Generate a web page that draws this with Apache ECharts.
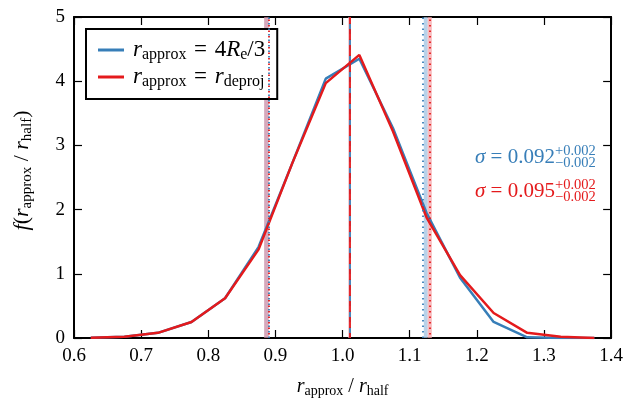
<!DOCTYPE html>
<html><head><meta charset="utf-8">
<script src="https://cdn.jsdelivr.net/npm/echarts@6/dist/echarts.min.js"></script>
<style>html,body{margin:0;padding:0;background:#fff}#c{width:626px;height:409px}</style>
</head><body><div id="c"></div>
<script>
const binCenters = [0.625,0.675,0.725,0.775,0.825,0.875,0.925,0.975,1.025,1.075,1.125,1.175,1.225,1.275,1.325,1.375];
const blueVals = [0.005,0.02,0.08,0.25,0.62,1.42,2.72,4.04,4.35,3.27,1.95,0.94,0.25,0.01,0,0];
const redVals  = [0.005,0.02,0.08,0.25,0.62,1.38,2.72,3.97,4.41,3.22,1.88,0.98,0.39,0.08,0.02,0];
const xTicks = [0.6,0.7,0.8,0.9,1.0,1.1,1.2,1.3,1.4];
const yTicks = [0,1,2,3,4,5];
const blueMed = 1.008, blueLo = 0.8875, blueHi = 1.124;
const redMed = 1.0095, redLo = 0.889, redHi = 1.130;
const blueHiBand = [1.121, 1.1268];
const redHiBand = [1.1268, 1.133];
const loBand = [0.8832, 0.890];
const medBand = [1.0083, 1.0123];
const sigmaBlue = ['0.092','+0.002','\u22120.002'];
const sigmaRed = ['0.095','+0.002','\u22120.002'];

const BLUE = '#377eb8', RED = '#e41a1c';
const FONT = 'Liberation Serif';
const chart = echarts.init(document.getElementById('c'));
function mkRich(big, small, lh, pad){
  return {
    i:{fontFamily:FONT,fontStyle:'italic',fontSize:big,color:'#000',lineHeight:lh,verticalAlign:'middle'},
    s:{fontFamily:FONT,fontSize:small,color:'#000',lineHeight:lh,padding:[pad,0,0,0],verticalAlign:'middle'},
    n:{fontFamily:FONT,fontSize:big,color:'#000',lineHeight:lh,verticalAlign:'middle'}
  };
}
const richX = mkRich(20,14,26,9);
const richY = mkRich(22,15,28,10);
const richL = mkRich(23,16,28,10);
function pairs(xs, ys){ return xs.map((x,i)=>[x, ys[i]]); }
const axisCommon = {
  min:xTicks[0],max:xTicks[xTicks.length-1],interval:0.1,type:'value',
  axisLine:{show:true,onZero:false,lineStyle:{color:'#000',width:2}},
  axisTick:{show:true,inside:true,length:8,lineStyle:{color:'#000',width:1.2}},
  splitLine:{show:false}
};
const yCommon = {
  type:'value',min:yTicks[0],max:yTicks[yTicks.length-1],interval:1,
  axisLine:{show:true,onZero:false,lineStyle:{color:'#000',width:2}},
  axisTick:{show:true,inside:true,length:8,lineStyle:{color:'#000',width:1.2}},
  splitLine:{show:false}
};
const SP = '\u2004';
chart.setOption({
  animation:false,
  grid:{left:74,right:14,top:17,bottom:71},
  xAxis:[
    Object.assign({}, axisCommon, {position:'bottom',
      axisLabel:{fontFamily:FONT,fontSize:19,color:'#000',margin:9,formatter:v=>v.toFixed(1)},
      name:'{i|r}{s|approx}{n| / }{i|r}{s|half}',nameLocation:'middle',nameGap:36,
      nameTextStyle:{rich:richX}}),
    Object.assign({}, axisCommon, {position:'top',axisLabel:{show:false}})
  ],
  yAxis:[
    Object.assign({}, yCommon, {position:'left',
      axisLabel:{fontFamily:FONT,fontSize:19,color:'#000',margin:9},
      name:'{i|f}{n|(}{i|r}{s|approx}{n| / }{i|r}{s|half}{n|)}',nameLocation:'middle',nameGap:38,nameRotate:90,
      nameTextStyle:{rich:richY,padding:[0,0,0,14]}}),
    Object.assign({}, yCommon, {position:'right',axisLabel:{show:false}})
  ],
  legend:{
    orient:'vertical',left:86,top:29,padding:[8,12,9,12],itemGap:1,
    borderColor:'#000',borderWidth:2,borderRadius:0,backgroundColor:'#fff',
    itemWidth:26,itemHeight:3,icon:'rect',
    data:[{name:'blue'},{name:'red'}],
    formatter:function(n){
      return n==='blue' ? '{i|r}{s|approx}{n|'+SP+'='+SP+'4}{i|R}{s|e}{n|/3}' : '{i|r}{s|approx}{n|'+SP+'='+SP+'}{i|r}{s|deproj}';
    },
    textStyle:{rich:richL,padding:[0,0,0,4]}
  },
  series:[
    {name:'bands',type:'line',data:[],silent:true,z:1,
      markArea:{silent:true,data:[
        [{xAxis:loBand[0],itemStyle:{color:'rgba(200,140,165,0.75)'}},{xAxis:loBand[1]}],
        [{xAxis:medBand[0],itemStyle:{color:'rgba(240,170,180,0.7)'}},{xAxis:medBand[1]}],
        [{xAxis:blueHiBand[0],itemStyle:{color:'rgba(160,195,225,0.75)'}},{xAxis:blueHiBand[1]}],
        [{xAxis:redHiBand[0],itemStyle:{color:'rgba(245,165,170,0.75)'}},{xAxis:redHiBand[1]}]
      ]}},
    {name:'blue',type:'line',data:pairs(binCenters,blueVals),showSymbol:false,z:3,
      lineStyle:{color:BLUE,width:2.5},itemStyle:{color:BLUE},
      markLine:{silent:true,symbol:'none',label:{show:false},data:[
        {xAxis:blueMed,lineStyle:{color:BLUE,width:1.8,type:[11,5]}},
        {xAxis:blueLo,lineStyle:{color:BLUE,width:1.8,type:[1.5,4]}},
        {xAxis:blueHi,lineStyle:{color:BLUE,width:1.8,type:[1.5,4]}}
      ]}},
    {name:'red',type:'line',data:pairs(binCenters,redVals),showSymbol:false,z:4,
      lineStyle:{color:RED,width:2.5},itemStyle:{color:RED},
      markLine:{silent:true,symbol:'none',label:{show:false},data:[
        {xAxis:redMed,lineStyle:{color:RED,width:1.8,type:[11,5],dashOffset:6}},
        {xAxis:redLo,lineStyle:{color:RED,width:1.8,type:[1.5,4],dashOffset:2}},
        {xAxis:redHi,lineStyle:{color:RED,width:1.8,type:[1.5,4],dashOffset:2}}
      ]}}
  ],
  graphic:[
    {type:'text',left:475,top:147,style:{text:'{g|\u03c3}{n| = '+sigmaBlue[0]+'}',rich:{
      g:{fontFamily:FONT,fontStyle:'italic',fontSize:21,fill:BLUE},n:{fontFamily:FONT,fontSize:21,fill:BLUE}}}},
    {type:'text',left:555,top:144,style:{text:sigmaBlue[1]+'\n'+sigmaBlue[2],fontFamily:FONT,fontSize:14.5,lineHeight:12,fill:BLUE}},
    {type:'text',left:475,top:181,style:{text:'{g|\u03c3}{n| = '+sigmaRed[0]+'}',rich:{
      g:{fontFamily:FONT,fontStyle:'italic',fontSize:21,fill:RED},n:{fontFamily:FONT,fontSize:21,fill:RED}}}},
    {type:'text',left:555,top:178,style:{text:sigmaRed[1]+'\n'+sigmaRed[2],fontFamily:FONT,fontSize:14.5,lineHeight:12,fill:RED}}
  ]
});
</script></body></html>
